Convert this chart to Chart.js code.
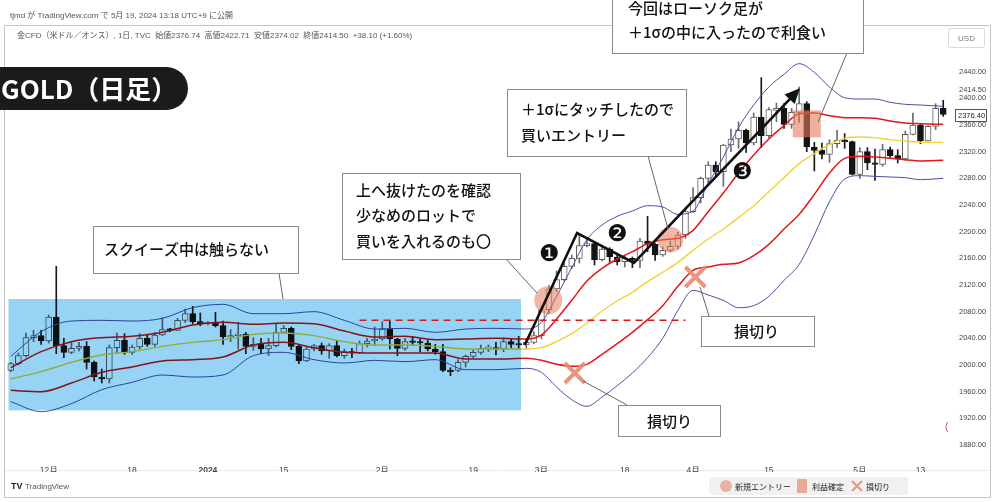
<!DOCTYPE html>
<html>
<head>
<meta charset="utf-8">
<script src="https://cdn.jsdelivr.net/npm/chart.js@4.4.1/dist/chart.umd.min.js"></script>
<style>
  html, body { margin: 0; padding: 0; background: #fff; }
  canvas { display: block; }
</style>
</head>
<body>
<canvas id="goldChart" width="1000" height="502"></canvas>
<script>
// trading days shown on the chart, month by month
const novDays = [24,27,28,29,30];
const decDays = [1,4,5,6,7,8,11,12,13,14,15,18,19,20,21,22,25,26,27,28,29];
const janDays = [1,2,3,4,5,8,9,10,11,12,15,16,17,18,19,22,23,24,25,26,29,30,31];
const febDays = [1,2,5,6,7,8,9,12,13,14,15,16,19,20,21,22,23,26,27,28,29];
const marDays = [1,4,5,6,7,8,11,12,13,14,15,18,19,20,21,22,25,26,27,28];
const aprDays = [1,2,3,4,5,8,9,10,11,12,15,16,17,18,19,22,23,24,25,26,29,30];
const mayDays = [1,2,3,6,7,8,9,10,13,14,15,16];

// daily candles (USD/oz)
const open = [1992,2002,2014,2041,2044,2036,2072,2029,2019,2025,
  2028,2004,1982,1979,2026,2037,2019,2027,2040,2031,
  2045,2053,2052,2067,2077,2065,2062,2063,2059,2042,
  2044,2046,2028,2031,2024,2029,2049,2055,2028,2006,
  2024,2029,2021,2029,2014,2020,2018,2032,2036,2039,
  2054,2039,2025,2036,2035,2033,2024,2020,1992,1992,
  2004,2013,2019,2025,2026,2024,2035,2031,2030,2034,
  2044,2083,2114,2128,2148,2160,2179,2182,2158,2174,
  2162,2155,2160,2157,2186,2181,2165,2172,2178,2195,
  2230,2251,2280,2300,2290,2330,2339,2352,2333,2372,
  2344,2382,2385,2361,2379,2392,2327,2322,2316,2332,
  2337,2335,2286,2320,2303,2301,2323,2314,2309,2346,
  2360,2336,2358,2385];
const high = [2004,2018,2048,2052,2052,2075,2148,2040,2035,2034,
  2035,2006,1994,2030,2048,2047,2030,2047,2046,2049,
  2071,2055,2070,2084,2088,2078,2065,2079,2066,2053,
  2064,2049,2041,2040,2040,2062,2059,2057,2031,2028,
  2031,2033,2032,2037,2024,2025,2036,2040,2057,2065,
  2066,2040,2040,2043,2039,2037,2031,2031,1996,2008,
  2015,2023,2030,2030,2034,2041,2039,2043,2040,2050,
  2088,2119,2141,2153,2165,2195,2189,2185,2180,2176,
  2168,2164,2162,2190,2223,2183,2177,2186,2199,2236,
  2266,2282,2305,2305,2331,2354,2365,2354,2378,2431,
  2386,2393,2392,2385,2417,2395,2334,2333,2338,2352,
  2347,2336,2326,2326,2324,2331,2327,2323,2351,2378,
  2362,2359,2392,2397];
const low = [1990,2000,2012,2035,2031,2033,2017,2011,2017,2021,
  1994,1976,1973,1973,2018,2016,2016,2024,2028,2028,
  2044,2050,2052,2064,2062,2059,2060,2057,2031,2035,
  2024,2017,2022,2017,2014,2027,2048,2023,2002,2005,
  2021,2016,2010,2012,2010,2011,2017,2027,2029,2037,
  2024,2014,2022,2030,2020,2021,2016,1990,1984,1990,
  1997,2011,2016,2020,2015,2020,2026,2025,2024,2032,
  2039,2077,2110,2126,2145,2153,2177,2150,2156,2154,
  2150,2147,2146,2146,2170,2157,2163,2170,2174,2190,
  2229,2243,2272,2281,2268,2320,2325,2319,2330,2326,
  2341,2365,2355,2355,2364,2320,2291,2309,2304,2326,
  2325,2285,2280,2293,2277,2298,2310,2303,2307,2345,
  2332,2336,2353,2373];
const close = [2002,2014,2041,2044,2036,2072,2029,2019,2025,2028,
  2004,1982,1979,2026,2037,2019,2027,2040,2031,2045,
  2053,2052,2067,2077,2065,2062,2063,2059,2042,2044,
  2046,2028,2031,2024,2029,2049,2055,2028,2006,2024,
  2029,2021,2029,2014,2020,2018,2032,2036,2039,2054,
  2039,2025,2035,2034,2033,2024,2020,1992,1990,2004,
  2013,2019,2025,2026,2024,2035,2031,2030,2034,2044,
  2083,2114,2128,2148,2160,2179,2182,2158,2174,2162,
  2155,2160,2157,2186,2181,2165,2172,2178,2195,2230,
  2251,2280,2300,2290,2330,2339,2352,2333,2372,2344,
  2383,2385,2361,2379,2392,2327,2322,2316,2332,2337,
  2335,2286,2320,2303,2301,2323,2314,2309,2346,2360,
  2336,2358,2385,2376];

// Bollinger band readings, taken at these bar numbers
const bandIdx = [0,4,8,12,16,20,24,28,32,36,40,44,48,52,56,60,64,68,
  70,72,74,76,78,80,82,84,86,88,90,92,94,96,98,100,102,104,106,108,110,112,114,116,118,120,123];
const upper2 = [2013,2050,2066,2067,2066,2070,2086,2091,2077,2077,2080,2067,2054,2055,2049,2054,2055,2054,
  2064,2103,2146,2188,2210,2223,2231,2239,2237,2226,2231,2272,2312,2356,2390,2417,2436,2452,2439,2417,2401,2399,2399,2394,2391,2390,2388];
const upper1 = [1996,2020,2035,2041,2043,2049,2060,2064,2061,2063,2062,2051,2042,2043,2038,2039,2040,2039,
  2045,2069,2097,2126,2145,2159,2170,2182,2188,2190,2202,2230,2258,2288,2315,2339,2359,2377,2378,2374,2371,2371,2370,2366,2363,2362,2361];
const middle = [1979,1990,2004,2015,2020,2028,2034,2038,2046,2048,2044,2035,2030,2030,2028,2024,2024,2024,
  2026,2035,2047,2063,2081,2096,2109,2125,2139,2154,2172,2189,2204,2221,2239,2260,2281,2302,2317,2331,2340,2342,2341,2338,2336,2334,2334];
const lower1 = [1962,1960,1973,1989,1997,2006,2008,2012,2030,2034,2026,2019,2018,2018,2018,2009,2009,2010,
  2007,2001,1998,2001,2016,2032,2049,2068,2089,2118,2142,2147,2151,2153,2164,2181,2204,2226,2256,2288,2310,2313,2312,2310,2308,2306,2307];
const lower2 = [1945,1930,1942,1963,1974,1985,1982,1985,2014,2019,2008,2003,2007,2005,2008,1993,1993,1995,
  1989,1967,1948,1938,1952,1969,1988,2011,2040,2082,2112,2105,2097,2086,2089,2103,2127,2151,2195,2245,2279,2284,2283,2282,2281,2278,2280];

// axis labels
const priceTicks = [1880,1920,1960,2000,2040,2080,2120,2160,2200,2240,2280,2320,2360,2400,2440];
const tickDates = ['2023-12-01','2023-12-18','2024-01-01','2024-01-15','2024-02-01','2024-02-19',
  '2024-03-01','2024-03-18','2024-04-01','2024-04-15','2024-05-01','2024-05-13'];
const tickNames = ['12月','18','2024','15','2月','19','3月','18','4月','15','5月','13'];

// annotation anchors (bar number, price)
const squeeze = { from: -0.3, to: 67.3, hi: 2099, lo: 1932 };
const resistance = { from: 46, to: 89, price: 2067 };
const zigzag = [[67.8, 2030], [74.7, 2198], [82.2, 2153], [104.1, 2415]];
const entries = [[70.9, 2097, 14], [87, 2188, 13]];
const takeProfit = [105, 2361];
const stops = [[74.4, 1988], [90.3, 2132]];
const steps = [['❶', 71, 2165], ['❷', 80, 2195], ['❸', 96.5, 2288]];

const pad = n => String(n).padStart(2, '0');
const dates = [
  ...novDays.map(d => '2023-11-' + pad(d)),
  ...decDays.map(d => '2023-12-' + pad(d)),
  ...janDays.map(d => '2024-01-' + pad(d)),
  ...febDays.map(d => '2024-02-' + pad(d)),
  ...marDays.map(d => '2024-03-' + pad(d)),
  ...aprDays.map(d => '2024-04-' + pad(d)),
  ...mayDays.map(d => '2024-05-' + pad(d))
];
const isUp = close.map((c, i) => c >= open[i]);
const bandLine = vals => bandIdx.map((k, j) => ({ x: dates[k], y: vals[j] }));

const FONT_JP = '"Noto Sans CJK JP", sans-serif';
const FONT_UI = '"Liberation Sans", "Noto Sans CJK JP", sans-serif';
const SALMON = 'rgba(228, 122, 92, 0.55)';

const callouts = [
  { x: 93, y: 226, w: 205, h: 47, tx: 104, ty: [249], lines: ['スクイーズ中は触らない'], link: [[279, 273], [283, 299]] },
  { x: 342, y: 173, w: 178, h: 86, tx: 356, ty: [190, 215, 241],
    lines: ['上へ抜けたのを確認', '少なめのロットで', '買いを入れるのも〇'], link: [[506, 259], [537, 293]] },
  { x: 507, y: 89, w: 179, h: 67, tx: 521, ty: [109, 135], lines: ['＋1σにタッチしたので', '買いエントリー'], link: [[648, 156], [668, 229]] },
  { x: 612, y: -5, w: 251, h: 58, tx: 628, ty: [8, 32], lines: ['今回はローソク足が', '＋1σの中に入ったので利食い'], link: [[847, 53], [818, 122]] },
  { x: 701, y: 316, w: 113, h: 30, tx: 734, ty: [331], lines: ['損切り'], link: [[700, 287], [709, 316]] },
  { x: 618, y: 405, w: 102, h: 31, tx: 647, ty: [421], lines: ['損切り'], link: [[583, 381], [627, 405]] }
];

function drawCross(c, x, y, s, w) {
  c.save();
  c.strokeStyle = 'rgba(230, 140, 112, 0.9)';
  c.lineWidth = w;
  c.beginPath();
  c.moveTo(x - s, y - s); c.lineTo(x + s, y + s);
  c.moveTo(x + s, y - s); c.lineTo(x - s, y + s);
  c.stroke();
  c.restore();
}

const overlay = {
  id: 'overlay',
  beforeDraw(chart) {
    const c = chart.ctx;
    c.save();
    c.fillStyle = '#fff';
    c.fillRect(0, 0, chart.width, chart.height);
    c.strokeStyle = '#c4c4c4';
    c.lineWidth = 1;
    c.beginPath();
    c.moveTo(4.5, 25.5); c.lineTo(990.5, 25.5); c.lineTo(990.5, 497.5); c.lineTo(4.5, 497.5); c.closePath();
    c.stroke();
    c.strokeStyle = '#ececec';
    c.beginPath(); c.moveTo(5, 470.5); c.lineTo(990, 470.5); c.stroke();
    c.fillStyle = '#555';
    c.font = '8px ' + FONT_UI;
    c.textBaseline = 'middle';
    c.fillText('tjmd が TradingView.com で 5月 19, 2024 13:18 UTC+9 に公開', 10, 16);
    c.fillText('金CFD（米ドル／オンス）, 1日, TVC  始値2376.74  高値2422.71  安値2374.02  終値2414.50  +38.10 (+1.60%)', 17, 36);
    c.restore();
  },
  afterDatasetsDraw(chart) {
    const c = chart.ctx;
    const xs = chart.scales.x, ys = chart.scales.y;
    const X = i => xs.getPixelForValue(i);
    const Y = p => ys.getPixelForValue(p);
    c.save();

    // squeeze zone
    c.globalCompositeOperation = 'multiply';
    c.fillStyle = 'rgb(150, 211, 244)';
    c.fillRect(X(squeeze.from), Y(squeeze.hi), X(squeeze.to) - X(squeeze.from), Y(squeeze.lo) - Y(squeeze.hi));
    c.globalCompositeOperation = 'source-over';

    // box top
    c.strokeStyle = '#d11b1b';
    c.lineWidth = 1.5;
    c.setLineDash([7, 5]);
    c.beginPath();
    c.moveTo(X(resistance.from), Y(resistance.price));
    c.lineTo(X(resistance.to), Y(resistance.price));
    c.stroke();
    c.setLineDash([]);

    // entries, profit, stops
    c.fillStyle = SALMON;
    entries.forEach(([i, p, r]) => { c.beginPath(); c.arc(X(i), Y(p), r, 0, Math.PI * 2); c.fill(); });
    c.fillStyle = 'rgba(228, 122, 92, 0.6)';
    c.fillRect(X(takeProfit[0]) - 14, Y(takeProfit[1]) - 14, 28, 27);
    stops.forEach(([i, p]) => drawCross(c, X(i), Y(p), 10, 4));

    // price path
    const pts = zigzag.map(([i, p]) => [X(i), Y(p)]);
    const [ax, ay] = pts[pts.length - 1];
    const [bx, by] = pts[pts.length - 2];
    const ang = Math.atan2(ay - by, ax - bx);
    const head = 15;
    c.strokeStyle = '#111';
    c.lineWidth = 2.6;
    c.lineJoin = 'miter';
    c.beginPath();
    pts.forEach(([x, y], k) => {
      if (k === pts.length - 1) c.lineTo(x - Math.cos(ang) * head * 0.8, y - Math.sin(ang) * head * 0.8);
      else if (k === 0) c.moveTo(x, y);
      else c.lineTo(x, y);
    });
    c.stroke();
    c.fillStyle = '#111';
    c.beginPath();
    c.moveTo(ax, ay);
    c.lineTo(ax - Math.cos(ang) * head + Math.sin(ang) * 7, ay - Math.sin(ang) * head - Math.cos(ang) * 7);
    c.lineTo(ax - Math.cos(ang) * head - Math.sin(ang) * 7, ay - Math.sin(ang) * head + Math.cos(ang) * 7);
    c.closePath();
    c.fill();

    // step numbers
    c.font = '23px "DejaVu Sans"';
    c.textAlign = 'center';
    c.textBaseline = 'middle';
    steps.forEach(([t, i, p]) => c.fillText(t, X(i), Y(p)));

    // callouts
    c.textAlign = 'left';
    c.strokeStyle = '#666';
    c.lineWidth = 1;
    callouts.forEach(b => {
      c.beginPath();
      c.moveTo(b.link[0][0], b.link[0][1]);
      c.lineTo(b.link[1][0], b.link[1][1]);
      c.stroke();
    });
    callouts.forEach(b => {
      c.fillStyle = '#fff';
      c.fillRect(b.x, b.y, b.w, b.h);
      c.strokeStyle = '#8c8c8c';
      c.strokeRect(b.x + 0.5, b.y + 0.5, b.w, b.h);
      c.fillStyle = '#111';
      c.font = '500 15px ' + FONT_JP;
      b.lines.forEach((t, k) => c.fillText(t, b.tx, b.ty[k]));
    });

    // title pill
    c.fillStyle = '#1b1b1b';
    c.beginPath();
    c.roundRect(-30, 67, 218, 43, 21.5);
    c.fill();
    c.fillStyle = '#fff';
    c.font = 'bold 26px ' + FONT_JP;
    c.fillText('GOLD（日足）', 1, 89);
    c.restore();
  },
  afterDraw(chart) {
    const c = chart.ctx;
    c.save();
    c.textBaseline = 'middle';
    // price scale extras
    c.fillStyle = '#444';
    c.font = '7.5px "Liberation Sans Narrow", "Liberation Sans", sans-serif';
    c.fillText('2414.50', 959, 90);
    c.fillStyle = '#fff';
    c.fillRect(955, 109, 31, 12);
    c.strokeStyle = '#555';
    c.strokeRect(955.5, 109.5, 31, 12);
    c.fillStyle = '#222';
    c.fillText('2376.40', 958, 115.5);
    c.fillStyle = '#c04a6a';
    c.font = '10px "Liberation Sans"';
    c.fillText('(', 945, 427);
    // currency button
    c.strokeStyle = '#dadada';
    c.beginPath(); c.roundRect(948.5, 28.5, 36, 19, 2); c.stroke();
    c.fillStyle = '#777';
    c.font = '8px ' + FONT_UI;
    c.textAlign = 'center';
    c.fillText('USD', 966.5, 38.5);
    c.textAlign = 'left';
    // footer
    c.fillStyle = '#222';
    c.font = 'bold 9px "Liberation Sans"';
    c.fillText('TV', 11, 487);
    c.fillStyle = '#555';
    c.font = '8px "Liberation Sans"';
    c.fillText('TradingView', 25, 487);
    // legend
    c.fillStyle = '#f1f1f1';
    c.fillRect(709, 477, 199, 18);
    c.fillStyle = SALMON;
    c.beginPath(); c.arc(726, 486, 6, 0, Math.PI * 2); c.fill();
    c.fillStyle = 'rgba(228, 122, 92, 0.6)';
    c.fillRect(797, 479, 10, 14);
    drawCross(c, 857, 486, 5, 2);
    c.fillStyle = '#222';
    c.font = '8px ' + FONT_JP;
    c.fillText('新規エントリー', 735, 486.5);
    c.fillText('利益確定', 812, 486.5);
    c.fillText('損切り', 866, 486.5);
    c.restore();
  }
};

new Chart(document.getElementById('goldChart'), {
  type: 'bar',
  data: {
    labels: dates,
    datasets: [
      { type: 'line', label: '+2σ', data: bandLine(upper2), borderColor: '#4752a4', borderWidth: 1,
        pointRadius: 0, cubicInterpolationMode: 'monotone', order: 1 },
      { type: 'line', label: '+1σ', data: bandLine(upper1), borderColor: '#e3161b', borderWidth: 1.5,
        pointRadius: 0, cubicInterpolationMode: 'monotone', order: 1 },
      { type: 'line', label: 'SMA20', data: bandLine(middle), borderColor: '#f2d23c', borderWidth: 1.4,
        pointRadius: 0, cubicInterpolationMode: 'monotone', order: 1 },
      { type: 'line', label: '-1σ', data: bandLine(lower1), borderColor: '#e3161b', borderWidth: 1.5,
        pointRadius: 0, cubicInterpolationMode: 'monotone', order: 1 },
      { type: 'line', label: '-2σ', data: bandLine(lower2), borderColor: '#4752a4', borderWidth: 1,
        pointRadius: 0, cubicInterpolationMode: 'monotone', order: 1 },
      { label: 'wick', data: low.map((l, i) => [l, high[i]]),
        backgroundColor: isUp.map(u => u ? '#6d6d6d' : '#1a1a1a'),
        barThickness: 1, grouped: false, order: 3 },
      { label: 'body', data: open.map((o, i) => [o, close[i]]),
        backgroundColor: isUp.map(u => u ? '#ffffff' : '#141414'),
        borderColor: isUp.map(u => u ? '#5c5c5c' : '#141414'),
        borderWidth: 1, borderSkipped: false, barThickness: 6, minBarLength: 1.5,
        grouped: false, order: 2 }
    ]
  },
  options: {
    responsive: false,
    animation: false,
    layout: { padding: { left: 7, top: 50, right: 0, bottom: 30 } },
    plugins: { legend: { display: false }, tooltip: { enabled: false } },
    scales: {
      x: {
        offset: true,
        grid: { display: false },
        border: { display: false },
        afterFit(s) { s.height = 20; },
        ticks: {
          autoSkip: false,
          maxRotation: 0,
          padding: 6,
          color: '#444',
          font: ctx => ({ size: 8.5, family: FONT_UI, weight: ctx.tick && ctx.tick.label === '2024' ? 'bold' : 'normal' }),
          callback(v) {
            const k = tickDates.indexOf(dates[v]);
            return k >= 0 ? tickNames[k] : null;
          }
        }
      },
      y: {
        position: 'right',
        min: 1869.5,
        max: 2472.5,
        grid: { display: false, drawTicks: false },
        border: { display: false },
        afterFit(s) { s.width = 53; },
        afterBuildTicks(s) { s.ticks = priceTicks.map(v => ({ value: v })); },
        ticks: {
          padding: 12,
          color: '#444',
          font: { size: 7.5, family: '"Liberation Sans Narrow", "Liberation Sans", sans-serif' },
          callback: v => Number(v).toFixed(2)
        }
      }
    }
  },
  plugins: [overlay]
});
</script>
</body>
</html>
